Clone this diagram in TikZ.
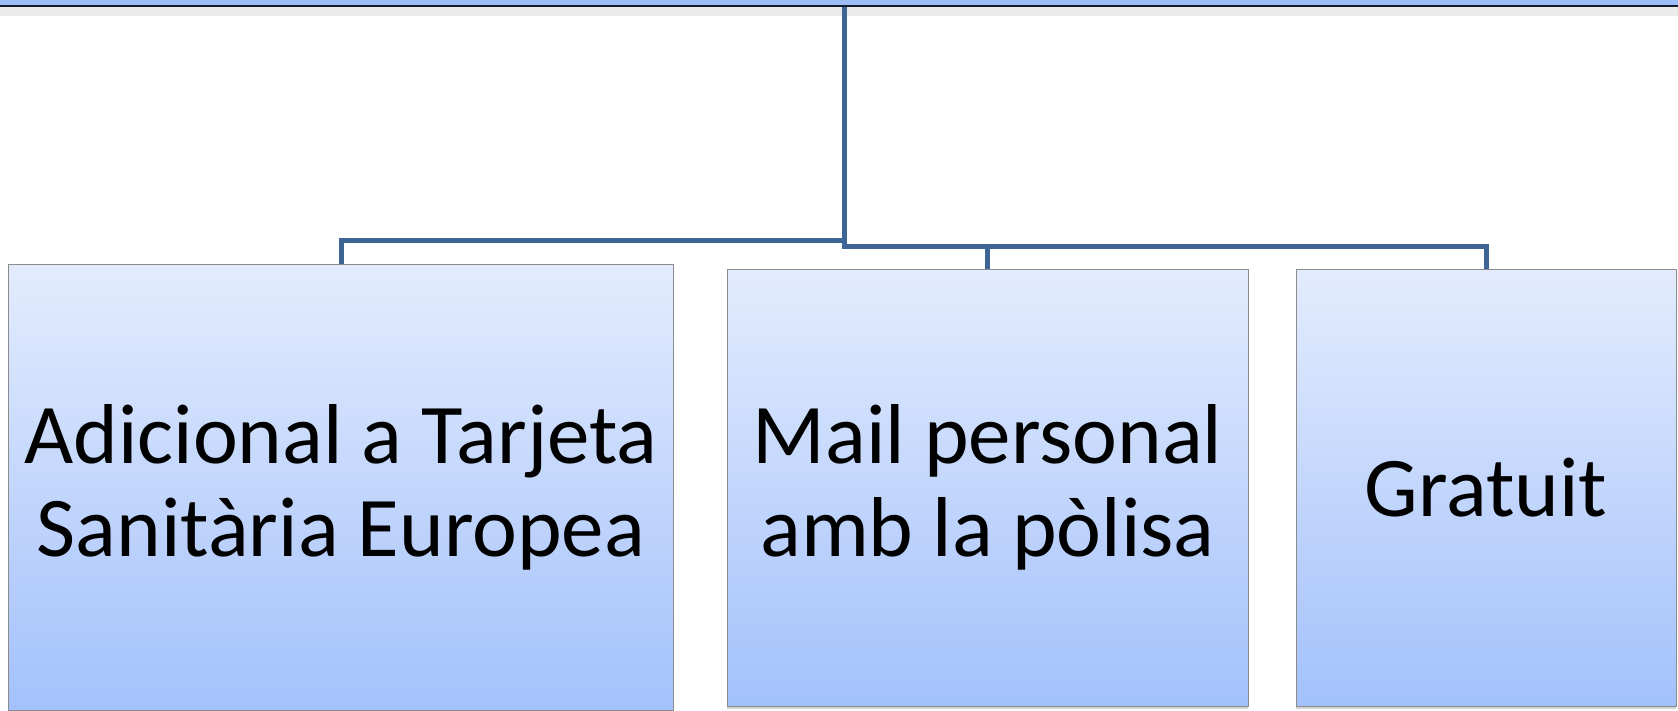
\documentclass[tikz,border=0pt]{standalone}
\usepackage{fontspec}
\setmainfont{Carlito}
\usetikzlibrary{shadows}
\definecolor{boxtop}{HTML}{E3ECFD}
\definecolor{boxbot}{HTML}{A3C1FB}
\definecolor{linecol}{HTML}{3D6596}
\definecolor{bandcol}{HTML}{9DBEF9}

\begin{document}
\begin{tikzpicture}[x=1pt,y=-1pt,
		box/.style={draw=black!45, line width=0.8pt, top color=boxtop, bottom color=boxbot,
			align=center, inner sep=0pt, font=\fontsize{85}{93}\selectfont},
		shadowed/.style={drop shadow={shadow xshift=0pt, shadow yshift=-3pt, opacity=0.35}},
		conn/.style={draw=linecol, line width=5pt}]
		\useasboundingbox (0,0) rectangle (1678,710);
		% top band
		\fill[black, opacity=0.08] (-10,6) rectangle (1690,16);
		\node[draw=black!70!linecol, line width=2pt, fill=bandcol, minimum width=1700pt, minimum height=100pt, inner sep=0pt] (root) at (839,-44) {};
		% boxes
		\node[box, minimum width=665pt, minimum height=446pt] (tarjeta) at (341,487) {Adicional a Tarjeta\\Sanitària Europea};
		\node[box, shadowed, minimum width=521pt, minimum height=437pt] (mail) at (987.5,487.5) {Mail personal\\amb la pòlisa};
		\node[box, shadowed, minimum width=380pt, minimum height=437pt] (gratuit) at (1486,487.5) {Gratuit};
		% connectors
		\coordinate (trunk) at (844,246);
		\coordinate (split) at (844,240);
		\draw[conn] (root.south -| trunk) -- (trunk) -| (gratuit.north);
		\draw[conn] (trunk) -| (mail.north);
		\draw[conn] (split) -| (tarjeta.north);
	\end{tikzpicture}
\end{document}
